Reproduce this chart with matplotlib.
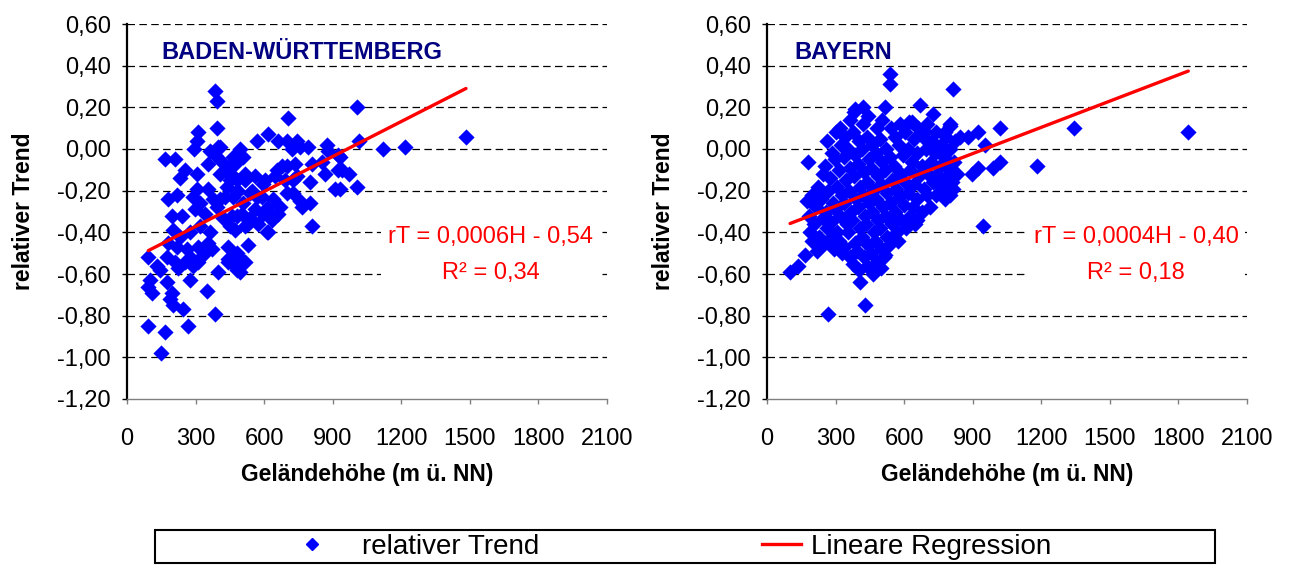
import numpy as np
import matplotlib.pyplot as plt
from matplotlib.lines import Line2D
from matplotlib.patches import Rectangle

plt.rcParams['font.family'] = ['Liberation Sans', 'DejaVu Sans']

# Achsen
x_ticks = [0, 300, 600, 900, 1200, 1500, 1800, 2100]
y_ticks = [-1.2, -1.0, -0.8, -0.6, -0.4, -0.2, 0.0, 0.2, 0.4, 0.6]
y_ticklabels = ['-1,20', '-1,00', '-0,80', '-0,60', '-0,40', '-0,20',
                '0,00', '0,20', '0,40', '0,60']

# Baden-Württemberg: Geländehöhe (m) und relativer Trend
bw_hoehe = [385, 392, 392, 312, 305, 293, 363, 400, 166, 210,
            254, 232, 305, 356, 385, 414, 436, 465, 480, 305,
            356, 181, 217, 290, 319, 378, 195, 239, 297, 341,
            392, 421, 450, 458, 203, 232, 275, 319, 363, 181,
            217, 261, 312, 356, 93, 130, 144, 173, 210, 224,
            254, 290, 312, 334, 370, 399, 443, 480, 101, 108,
            93, 173, 195, 275, 348, 203, 246, 188, 385, 93,
            166, 268, 147, 706, 567, 618, 662, 742, 720, 793,
            873, 881, 494, 509, 472, 677, 735, 808, 852, 925,
            866, 800, 910, 560, 516, 604, 647, 691, 742, 487,
            538, 589, 640, 728, 764, 800, 662, 618, 560, 502,
            531, 574, 618, 633, 808, 472, 531, 487, 516, 494,
            472, 1005, 1017, 1122, 1216, 1483, 932, 939, 973, 1005,
            932, 407, 487, 450, 407, 465, 516, 436, 545, 596,
            407, 465, 509, 567, 669, 480, 538, 596, 640, 516,
            611, 443, 480, 698, 757, 655, 698, 728, 698, 757,
            924, 450, 480, 428, 443, 480, 283]
bw_trend = [0.28, 0.23, 0.10, 0.08, 0.04, 0.00, -0.01, 0.01, -0.05, -0.05,
            -0.10, -0.14, -0.12, -0.07, -0.03, -0.06, -0.11, -0.04, -0.15, -0.19,
            -0.19, -0.24, -0.22, -0.23, -0.26, -0.24, -0.32, -0.32, -0.29, -0.31,
            -0.28, -0.33, -0.37, -0.32, -0.39, -0.42, -0.40, -0.37, -0.40, -0.45,
            -0.47, -0.48, -0.47, -0.45, -0.52, -0.56, -0.58, -0.52, -0.54, -0.57,
            -0.54, -0.56, -0.54, -0.51, -0.48, -0.59, -0.54, -0.58, -0.63, -0.69,
            -0.66, -0.64, -0.69, -0.63, -0.68, -0.75, -0.77, -0.72, -0.79, -0.85,
            -0.88, -0.85, -0.98, 0.15, 0.04, 0.07, 0.04, 0.04, 0.00, 0.01,
            0.02, -0.01, 0.00, -0.04, -0.07, -0.08, -0.07, -0.07, -0.06, -0.10,
            -0.12, -0.16, -0.19, -0.13, -0.15, -0.15, -0.13, -0.15, -0.13, -0.20,
            -0.21, -0.23, -0.24, -0.21, -0.28, -0.26, -0.31, -0.28, -0.29, -0.31,
            -0.36, -0.36, -0.40, -0.34, -0.37, -0.39, -0.46, -0.52, -0.54, -0.59,
            -0.56, 0.20, 0.04, 0.00, 0.01, 0.06, -0.04, -0.10, -0.12, -0.18,
            -0.19, 0.01, -0.04, -0.08, -0.12, -0.13, -0.12, -0.18, -0.20, -0.17,
            -0.24, -0.23, -0.26, -0.23, -0.28, -0.32, -0.33, -0.31, -0.32, -0.37,
            -0.40, -0.53, -0.51, 0.04, 0.01, -0.10, -0.08, -0.15, -0.21, -0.25,
            -0.03, -0.15, -0.20, -0.23, -0.47, -0.50, -0.53]
bw_steigung, bw_achse, bw_r2 = 0.00056, -0.54, '0,34'

# Bayern: Geländehöhe (m) und relativer Trend
by_hoehe = [538, 538, 812, 385, 421, 516, 669, 181, 101, 137,
            166, 217, 268, 429, 407, 458, 516, 713, 655, 728,
            633, 801, 1019, 881, 925, 954, 1343, 1843, 1019, 990,
            925, 895, 1180, 830, 808, 815, 801, 742, 611, 943,
            691, 800, 778, 844, 822,
            176, 184, 190, 198, 205, 196, 222, 215, 226,
            243, 236, 246, 239, 262, 255, 266, 258, 264, 252,
            284, 277, 288, 280, 275, 302, 296, 306, 299, 308, 294,
            318, 325, 316, 327, 321, 314, 328, 343, 337, 346, 339, 348, 335,
            362, 356, 365, 358, 367, 354, 363,
            381, 376, 386, 379, 388, 374, 383, 377,
            402, 396, 405, 398, 407, 394, 403,
            421, 416, 425, 418, 427, 414, 423,
            442, 436, 445, 438, 447, 434, 443, 437,
            461, 456, 465, 458, 467, 454, 463,
            482, 476, 485, 478, 487, 474, 483,
            501, 496, 505, 498, 507, 494, 503, 497,
            522, 516, 525, 518, 527, 514,
            541, 536, 545, 538, 547, 534,
            562, 556, 565, 558, 567,
            581, 576, 585, 578, 587, 574,
            602, 596, 605, 598, 607,
            621, 616, 625, 618, 627,
            642, 636, 645, 638, 647,
            661, 656, 665, 658, 682, 676, 685, 678,
            701, 696, 705, 698, 722, 716, 725,
            741, 736, 745, 738, 762, 756, 765,
            781, 776, 785, 778, 802, 796, 821, 816]
by_trend = [0.36, 0.31, 0.29, 0.19, 0.20, 0.20, 0.21, -0.06, -0.59, -0.56,
            -0.51, -0.49, -0.79, -0.75, -0.64, -0.58, -0.51, -0.28, -0.34, 0.17,
            0.13, 0.11, 0.10, 0.06, 0.08, 0.02, 0.10, 0.08, -0.06, -0.09,
            -0.09, -0.12, -0.08, -0.12, -0.16, -0.19, -0.22, -0.16, -0.37, -0.37,
            0.08, 0.12, 0.08, 0.06, -0.12,
            -0.25, -0.32, -0.40, -0.22, -0.36, -0.44, -0.18, -0.28, -0.42,
            -0.12, -0.24, -0.33, -0.46, 0.04, -0.08, -0.20, -0.30, -0.38, -0.45,
            -0.02, -0.14, -0.26, -0.35, -0.43, 0.08, -0.05, -0.18, -0.29, -0.40, -0.48,
            0.10, 0.02, -0.10, -0.22, -0.32, -0.44, -0.50, 0.06, -0.04, -0.15, -0.26, -0.36, -0.47,
            0.14, 0.00, -0.09, -0.20, -0.30, -0.40, -0.52,
            0.18, 0.08, -0.03, -0.13, -0.24, -0.34, -0.45, -0.55,
            0.04, -0.07, -0.18, -0.28, -0.38, -0.49, -0.58,
            0.12, 0.00, -0.11, -0.22, -0.32, -0.42, -0.52,
            0.16, 0.06, -0.05, -0.16, -0.26, -0.36, -0.46, -0.56,
            0.02, -0.09, -0.20, -0.30, -0.40, -0.50, -0.60,
            0.10, -0.02, -0.13, -0.24, -0.34, -0.44, -0.54,
            0.14, 0.05, -0.06, -0.17, -0.28, -0.38, -0.48, -0.57,
            0.00, -0.10, -0.21, -0.32, -0.42, -0.52,
            0.10, -0.04, -0.15, -0.26, -0.36, -0.46,
            0.06, -0.08, -0.19, -0.30, -0.40,
            0.12, 0.02, -0.12, -0.23, -0.34, -0.44,
            0.08, -0.03, -0.16, -0.27, -0.38,
            0.13, 0.00, -0.10, -0.21, -0.32,
            0.05, -0.06, -0.17, -0.28, -0.36,
            0.10, -0.02, -0.13, -0.24, 0.06, -0.08, -0.19, -0.30,
            0.12, 0.00, -0.12, -0.22, 0.04, -0.06, -0.16,
            0.08, -0.02, -0.12, -0.22, 0.02, -0.08, -0.18,
            0.06, -0.04, -0.14, -0.24, 0.00, -0.10, 0.04, -0.06]
by_steigung, by_achse, by_r2 = 0.00042, -0.40, '0,18'

BLAU = '#0000FF'
ROT = '#FF0000'
NAVY = '#000080'

W, H = 1289, 565
fig = plt.figure(figsize=(W / 100, H / 100), dpi=100)


def zeichne(x0, hoehe, trend, steigung, achse, r2, titel, titel_x, text_x):
    ax = fig.add_axes([x0 / W, 1 - 399 / H, 480 / W, 375 / H])
    ax.set_xlim(0, 2100)
    ax.set_ylim(-1.2, 0.6)
    ax.set_xticks(x_ticks)
    ax.set_xticklabels([str(t) for t in x_ticks])
    ax.set_yticks(y_ticks)
    ax.set_yticklabels(y_ticklabels)

    for y in y_ticks[1:]:
        ax.axhline(y, color='black', lw=0.9, dashes=(6, 3.5), zorder=0)

    ax.scatter(hoehe, trend, marker='D', s=68, color=BLAU, linewidths=0,
               zorder=2, clip_on=False)

    # Regressionsgerade über den Wertebereich der Höhen
    hx = np.array([min(hoehe), max(hoehe)])
    ax.plot(hx, steigung * hx + achse, color=ROT, lw=2.4, zorder=3,
            solid_capstyle='round')

    for s in ['top', 'right']:
        ax.spines[s].set_visible(False)
    ax.spines['left'].set_linewidth(1.6)
    ax.spines['bottom'].set_color('#808080')
    ax.spines['bottom'].set_linewidth(1.0)
    ax.tick_params(axis='y', direction='out', length=3.6, width=1,
                   pad=8, labelsize=17)
    ax.tick_params(axis='x', direction='out', length=3.6, width=1,
                   color='#808080', pad=17, labelsize=17)

    ax.set_ylabel('relativer Trend', fontsize=16.5, fontweight='bold', labelpad=16)
    ax.set_xlabel('Geländehöhe (m ü. NN)', fontsize=16.5, fontweight='bold', labelpad=10)

    ax.text(titel_x, 0.925, titel, transform=ax.transAxes, color=NAVY,
            fontsize=17, fontweight='bold', ha='left', va='center')

    gl = 'rT = {:.4f}H - {:.2f}'.format(steigung, abs(achse)).replace('.', ',')
    ax.text(text_x, 0.384, gl + '\nR² = ' + r2, transform=ax.transAxes,
            color=ROT, fontsize=17, ha='center', va='center',
            multialignment='center', linespacing=1.8, zorder=4,
            bbox=dict(facecolor='white', edgecolor='none', pad=5))
    return ax


zeichne(127, bw_hoehe, bw_trend, bw_steigung, bw_achse, bw_r2,
        'BADEN-WÜRTTEMBERG', 0.072, 0.758)
zeichne(767, by_hoehe, by_trend, by_steigung, by_achse, by_r2,
        'BAYERN', 0.058, 0.769)

# Legende unten
fig.patches.append(Rectangle((155 / W, 1 - 563 / H), 1060 / W, 33 / H,
                             transform=fig.transFigure, fill=False,
                             edgecolor='black', lw=1.5))
leg_y = 1 - 547 / H
fig.legend([Line2D([], [], marker='D', color=BLAU, linestyle='none', markersize=6)],
           ['relativer Trend'], loc='center left',
           bbox_to_anchor=(298 / W, leg_y), frameon=False, fontsize=20,
           handlelength=1.0, handletextpad=1.3, borderpad=0, borderaxespad=0)
fig.legend([Line2D([], [], color=ROT, lw=2.4)],
           ['Lineare Regression'], loc='center left',
           bbox_to_anchor=(762 / W, leg_y), frameon=False, fontsize=20,
           handlelength=1.4, handletextpad=0.35, borderpad=0, borderaxespad=0)

fig.savefig('out.png', dpi=100)
